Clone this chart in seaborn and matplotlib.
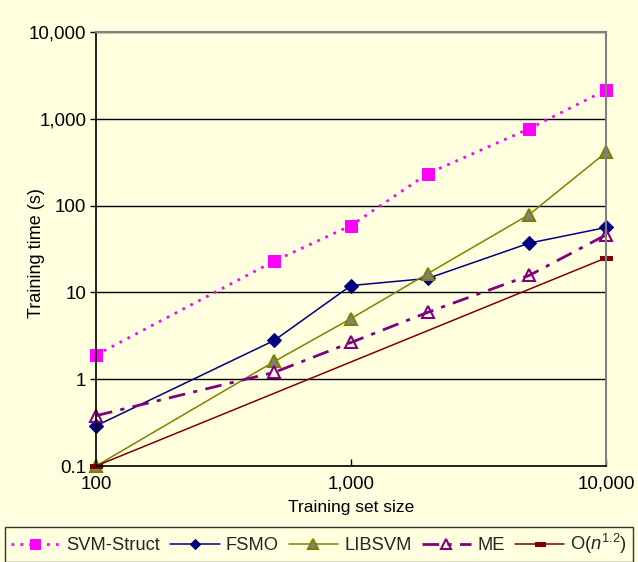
import matplotlib
matplotlib.use("Agg")
import matplotlib.pyplot as plt
import matplotlib.ticker as mticker
import seaborn as sns
import pandas as pd

sizes = [100, 500, 1000, 2000, 5000, 10000]
svm_struct = [1.9, 23, 59, 234, 770, 2150]
fsmo = [0.29, 2.8, 12, 14.5, 37, 56]
libsvm = [0.1, 1.6, 5.0, 16.5, 79, 410]
me = [0.38, 1.2, 2.65, 5.9, 15.7, 46]
on_sizes = [100, 10000]
on_vals = [0.1, 25]

x_ticks = [100, 1000, 10000]
x_tick_labels = ["100", "1,000", "10,000"]
y_ticks = [0.1, 1, 10, 100, 1000, 10000]
y_tick_labels = ["0.1", "1", "10", "100", "1,000", "10,000"]

bg = "#FFFFE0"
sns.set_theme(style="white")
plt.rcParams["font.family"] = ["Liberation Sans", "DejaVu Sans"]
plt.rcParams["mathtext.fontset"] = "custom"
plt.rcParams["mathtext.it"] = "Liberation Sans:italic"
plt.rcParams["mathtext.rm"] = "Liberation Sans"

fig = plt.figure(figsize=(6.38, 5.62), dpi=100, facecolor=bg)
ax = fig.add_axes([0.1505, 0.1708, 0.7994, 0.7722])
ax.set_facecolor(bg)

rect = [(-1.6, -0.6), (1.6, -0.6), (1.6, 0.6), (-1.6, 0.6), (-1.6, -0.6)]

common = dict(ax=ax, clip_on=False)
sns.lineplot(x=sizes, y=svm_struct, color="#FF00FF", linestyle=(0, (1, 2.2)),
             linewidth=2, marker="s", markersize=9, markeredgecolor="#FF00FF",
             markerfacecolor="#FF00FF", label="SVM-Struct", **common)
sns.lineplot(x=sizes, y=fsmo, color="#000080", linewidth=1.1, marker="D",
             markersize=7, markeredgecolor="#000080", markerfacecolor="#000080",
             label="FSMO", **common)
sns.lineplot(x=sizes, y=libsvm, color="#808000", linewidth=1.1, marker="^",
             markersize=9, markeredgecolor="#808000", markerfacecolor="#808080",
             markeredgewidth=1.5, label="LIBSVM", **common)
sns.lineplot(x=sizes, y=me, color="#800080", linestyle=(0, (6, 3, 1.5, 3)),
             linewidth=2, marker="^", markersize=9, markeredgecolor="#800080",
             markerfacecolor="none", markeredgewidth=1.5, label="ME", **common)
sns.lineplot(x=on_sizes, y=on_vals, color="#800000", linewidth=1.1, marker=rect,
             markersize=9, markeredgecolor="#800000", markerfacecolor="#800000",
             label=r"O($n^{1.2}$)", **common)

ax.set_xscale("log")
ax.set_yscale("log")
ax.set_xlim(100, 10000)
ax.set_ylim(0.1, 10000)
ax.set_xticks(x_ticks)
ax.set_xticklabels(x_tick_labels)
ax.set_yticks(y_ticks)
ax.set_yticklabels(y_tick_labels)
ax.xaxis.set_minor_locator(mticker.NullLocator())
ax.yaxis.set_minor_locator(mticker.NullLocator())
ax.tick_params(axis="y", direction="out", length=4, width=1, color="black",
               labelsize=13.5, pad=3, left=True)
ax.tick_params(axis="x", direction="in", length=5, width=1, color="black",
               labelsize=13.5, pad=7, bottom=True)
ax.yaxis.grid(True, color="black", linewidth=1)
ax.xaxis.grid(False)
for side in ["left", "bottom"]:
    ax.spines[side].set_color("black")
    ax.spines[side].set_linewidth(1.2)
for side in ["top", "right"]:
    ax.spines[side].set_color("#808080")
    ax.spines[side].set_linewidth(1.5)
for lab in ax.get_xticklabels() + ax.get_yticklabels():
    lab.set_color("black")

ax.set_xlabel("Training set size", fontsize=12.5, color="black", labelpad=5)
ax.set_ylabel("Training time (s)", fontsize=13, color="black")
ax.yaxis.set_label_coords(-0.1, 0.49)

handles, labels = ax.get_legend_handles_labels()
ax.get_legend().remove()
leg = fig.legend(handles, labels, loc="lower center", bbox_to_anchor=(0.5, 0.0),
                 ncol=5, frameon=True, fontsize=13.2, handlelength=2.7,
                 columnspacing=0.55, handletextpad=0.33, borderpad=0.3,
                 borderaxespad=0.0, markerscale=0.75, fancybox=False,
                 facecolor=bg, edgecolor="black")
leg.get_frame().set_linewidth(1)

fig.savefig("out.png", dpi=100, facecolor=bg)
